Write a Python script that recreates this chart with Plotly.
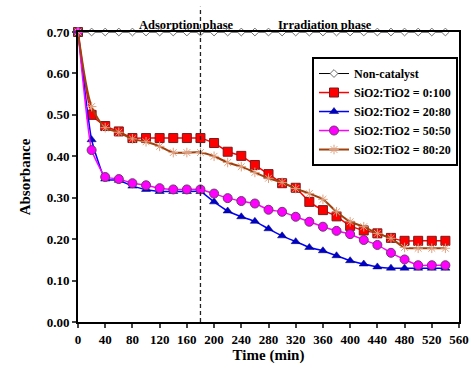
import plotly.graph_objects as go

time_min = [0, 20, 40, 60, 80, 100, 120, 140, 160, 180, 200, 220, 240, 260,
            280, 300, 320, 340, 360, 380, 400, 420, 440, 460, 480, 500, 520, 540]

non_catalyst = [0.70] * 28

sio2_tio2_0_100 = [0.70, 0.50, 0.473, 0.46, 0.444, 0.444, 0.444, 0.444, 0.444, 0.444,
                   0.432, 0.411, 0.401, 0.379, 0.357, 0.335, 0.324, 0.29, 0.27, 0.255,
                   0.232, 0.221, 0.214, 0.203, 0.196, 0.196, 0.196, 0.196]

sio2_tio2_20_80 = [0.70, 0.44, 0.345, 0.342, 0.328, 0.32, 0.315, 0.315, 0.315, 0.315,
                   0.29, 0.268, 0.254, 0.243, 0.225, 0.208, 0.194, 0.18, 0.172, 0.16,
                   0.148, 0.14, 0.133, 0.13, 0.13, 0.13, 0.13, 0.13]

sio2_tio2_50_50 = [0.70, 0.415, 0.35, 0.345, 0.335, 0.33, 0.323, 0.32, 0.32, 0.32,
                   0.31, 0.299, 0.292, 0.286, 0.271, 0.266, 0.254, 0.242, 0.23, 0.22,
                   0.212, 0.198, 0.186, 0.167, 0.151, 0.137, 0.137, 0.137]

sio2_tio2_80_20 = [0.70, 0.52, 0.469, 0.458, 0.442, 0.435, 0.424, 0.409, 0.409, 0.409,
                   0.40, 0.385, 0.375, 0.361, 0.347, 0.337, 0.322, 0.31, 0.296, 0.266,
                   0.242, 0.23, 0.214, 0.202, 0.18, 0.178, 0.178, 0.178]

x_ticks = [0, 40, 80, 120, 160, 200, 240, 280, 320, 360, 400, 440, 480, 520, 560]
y_ticks = [0.0, 0.1, 0.2, 0.3, 0.4, 0.5, 0.6, 0.7]

FONT = "Liberation Serif, Times New Roman, serif"

fig = go.Figure()

fig.add_trace(go.Scatter(
    x=time_min, y=non_catalyst, name="Non-catalyst", mode="lines+markers", cliponaxis=False,
    line=dict(color="black", width=1),
    marker=dict(symbol="diamond", size=6, color="white", line=dict(color="#707070", width=1)),
))
fig.add_trace(go.Scatter(
    x=time_min, y=sio2_tio2_0_100, name="SiO2:TiO2 = 0:100", mode="lines+markers", cliponaxis=False,
    line=dict(color="#ff0000", width=1.5, shape="spline", smoothing=0.4),
    marker=dict(symbol="square", size=9, color="#ff0000", line=dict(color="#7a1a1a", width=1)),
))
fig.add_trace(go.Scatter(
    x=time_min, y=sio2_tio2_20_80, name="SiO2:TiO2 = 20:80", mode="lines+markers", cliponaxis=False,
    line=dict(color="#0000ff", width=1.5, shape="spline", smoothing=0.4),
    marker=dict(symbol="triangle-up", size=8, color="#0000cc", line=dict(color="#000066", width=0.5)),
))
fig.add_trace(go.Scatter(
    x=time_min, y=sio2_tio2_50_50, name="SiO2:TiO2 = 50:50", mode="lines+markers", cliponaxis=False,
    line=dict(color="#ff00ff", width=1.5, shape="spline", smoothing=0.4),
    marker=dict(symbol="circle", size=9, color="#ff00ff", line=dict(color="#6a3a6a", width=1)),
))
fig.add_trace(go.Scatter(
    x=time_min, y=sio2_tio2_80_20, name="SiO2:TiO2 = 80:20", mode="lines+markers", cliponaxis=False,
    line=dict(color="#a0410d", width=2, shape="spline", smoothing=0.8),
    marker=dict(symbol="asterisk-open", size=8, color="#e0a080", line=dict(color="#e0a080", width=1)),
))

fig.add_shape(type="line", xref="x", yref="paper", x0=180, x1=180, y0=0, y1=1.087,
              line=dict(color="#222222", width=1.3, dash="4px,3px"))

ann_y = (321.7 - 16) / 289.7
fig.add_annotation(x=(136.5 - 78) / 381, y=ann_y, xref="paper", yref="paper",
                   text="<b>Adsorption phase</b>", showarrow=False,
                   font=dict(family=FONT, size=12.5, color="black", weight="bold"))
fig.add_annotation(x=(325 - 78) / 381, y=ann_y, xref="paper", yref="paper",
                   text="<b>Irradiation phase</b>", showarrow=False,
                   font=dict(family=FONT, size=12.5, color="black", weight="bold"))

fig.update_layout(
    width=474, height=369,
    margin=dict(l=78, r=15, t=32, b=47, autoexpand=False),
    paper_bgcolor="white", plot_bgcolor="white",
    font=dict(family=FONT, size=13, color="black", weight="bold"),
    showlegend=True,
    legend=dict(
        x=(312 - 78) / 381, y=(321.7 - 57) / 289.7, xanchor="left", yanchor="top",
        bgcolor="white", bordercolor="black", borderwidth=2,
        font=dict(family=FONT, size=12, color="black", weight="bold"),
        tracegroupgap=0, itemwidth=30,
    ),
    xaxis=dict(
        range=[0, 560], tickvals=x_ticks, ticks="outside", ticklen=4, tickwidth=1.5,
        showline=True, linecolor="black", linewidth=2, mirror=True, showgrid=False, zeroline=False,
        automargin=False,
        title=dict(text="<b>Time (min)</b>", font=dict(family=FONT, size=15), standoff=4),
        tickfont=dict(family=FONT, size=13, weight="bold"),
    ),
    yaxis=dict(
        range=[0, 0.70], tickvals=y_ticks, tickformat=".2f", ticks="outside", ticklen=4, tickwidth=1.5,
        showline=True, linecolor="black", linewidth=2, mirror=True, showgrid=False, zeroline=False,
        automargin=False,
        title=dict(text="<b>Absorbance</b>", font=dict(family=FONT, size=15), standoff=12),
        tickfont=dict(family=FONT, size=13, weight="bold"),
    ),
)

fig.write_html("out.html")
